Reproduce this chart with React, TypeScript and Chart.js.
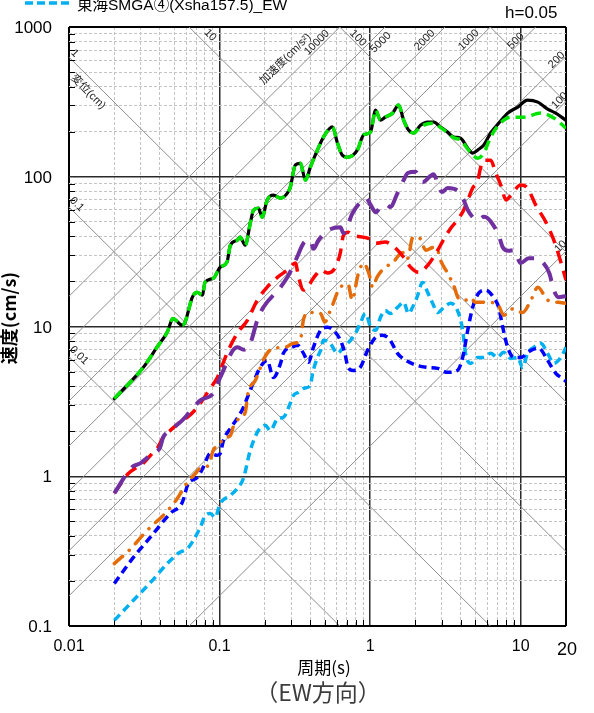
import React, { useEffect, useRef } from 'react';
import { Chart, registerables } from 'chart.js';

Chart.register(...registerables);

// ---- data: [period (s), velocity (cm/s)] ----
const blackSpectrum: [number, number][] = [
  [0.02, 3.3], [0.031, 5.3], [0.0385, 7.3], [0.045, 9.2], [0.049, 11.3], [0.0565, 10.2], [0.059, 10.7],
  [0.066, 15.7], [0.071, 16.9], [0.077, 16.2], [0.08, 19.7], [0.091, 21.0], [0.101, 24.9], [0.112, 26.9],
  [0.118, 34.9], [0.131, 37.7], [0.137, 39.5], [0.148, 34.9], [0.16, 49], [0.168, 59.8], [0.181, 61.7],
  [0.192, 53.7], [0.207, 69.8], [0.228, 75.3], [0.254, 71.9], [0.282, 77.7], [0.295, 85.2], [0.319, 120],
  [0.344, 123], [0.372, 94.9], [0.401, 116], [0.447, 151], [0.49, 184], [0.562, 215], [0.607, 168],
  [0.655, 139], [0.708, 135], [0.824, 151], [0.904, 190], [1.007, 199], [1.087, 279], [1.17, 239],
  [1.26, 250], [1.41, 266], [1.545, 301], [1.67, 239], [1.8, 205], [1.945, 196], [2.16, 221], [2.41, 232],
  [2.64, 232], [2.94, 215], [3.27, 199], [3.59, 184], [3.99, 181], [4.45, 155], [4.8, 144], [5.19, 151],
  [5.69, 163], [6.32, 196], [7.15, 228], [8.2, 266], [9.57, 292], [11.1, 325], [13.0, 315], [15.1, 283],
  [17.1, 266], [20, 238],
];

const greenSpectrum: [number, number][] = [
  [0.02, 3.3], [0.031, 5.3], [0.0385, 7.3], [0.045, 9.2], [0.049, 11.3], [0.0565, 10.2], [0.059, 10.7],
  [0.066, 15.7], [0.071, 16.9], [0.077, 16.2], [0.08, 19.7], [0.091, 21.0], [0.101, 24.9], [0.112, 26.9],
  [0.118, 34.9], [0.131, 37.7], [0.137, 39.5], [0.148, 34.9], [0.16, 49], [0.168, 59.8], [0.181, 61.7],
  [0.192, 53.7], [0.207, 69.8], [0.228, 75.3], [0.254, 71.9], [0.282, 77.7], [0.295, 85.2], [0.319, 120],
  [0.344, 123], [0.372, 94.9], [0.401, 116], [0.447, 151], [0.49, 184], [0.562, 215], [0.607, 168],
  [0.655, 139], [0.708, 135], [0.824, 151], [0.904, 190], [1.007, 199], [1.087, 279], [1.17, 239],
  [1.26, 250], [1.41, 266], [1.545, 301], [1.67, 239], [1.8, 205], [1.945, 196], [2.16, 215], [2.41, 226],
  [2.64, 228], [2.94, 213], [3.27, 197], [3.59, 182], [3.99, 176], [4.45, 153], [4.8, 140], [5.19, 133],
  [5.69, 144], [6.32, 184], [7.15, 222], [8.6, 250], [10.5, 250], [13.6, 266], [16.6, 247], [20, 211],
];

const redSpectrum: [number, number][] = [
  [0.02, 0.77], [0.0247, 1.04], [0.0283, 1.15], [0.0311, 1.22], [0.0362, 1.44], [0.0385, 1.53],
  [0.0422, 1.82], [0.047, 2.02], [0.0565, 2.36], [0.061, 2.47], [0.0711, 2.88], [0.0867, 3.86],
  [0.0967, 4.57], [0.112, 6.62], [0.131, 9.0], [0.153, 11.0], [0.178, 15.0], [0.207, 18.3], [0.242, 21.3],
  [0.282, 23.8], [0.319, 26.5], [0.335, 21.3], [0.361, 17.5], [0.434, 22], [0.469, 23.8], [0.521, 22.8],
  [0.589, 24.9], [0.635, 31.3], [0.665, 40.7], [0.714, 42.6], [0.77, 40.7], [0.962, 38.9], [1.087, 36],
  [1.26, 36.6], [1.476, 33.3], [1.67, 29], [1.86, 24.9], [2.1, 23], [2.41, 25.6], [2.81, 32.3], [3.03, 37],
  [3.43, 45.3], [3.8, 51.3], [4.18, 59.8], [4.45, 69.8], [4.8, 84], [5.19, 95], [5.43, 116], [5.69, 129],
  [6.32, 129], [6.83, 106], [7.38, 88], [8.0, 70], [8.6, 75], [10.0, 88], [11.1, 84], [12.6, 64.6],
  [14.7, 49.8], [16.6, 37.7], [18.5, 26.9], [20, 20.4],
];

const purpleSpectrum: [number, number][] = [
  [0.02, 0.77], [0.0262, 1.15], [0.0297, 1.22], [0.0357, 1.42], [0.0403, 1.56], [0.0422, 1.82],
  [0.047, 2.02], [0.0565, 2.36], [0.0745, 3.21], [0.0908, 3.57], [0.101, 4.57], [0.131, 7.26],
  [0.145, 7.0], [0.16, 7.72], [0.178, 11.0], [0.195, 13.4], [0.254, 18.3], [0.282, 21.3], [0.3, 24],
  [0.327, 29], [0.361, 36], [0.401, 37.7], [0.42, 33], [0.454, 37.7], [0.528, 44], [0.635, 46], [0.665, 42],
  [0.764, 57.1], [0.889, 69.8], [0.94, 72], [1.01, 64.6], [1.09, 57.9], [1.17, 62.7], [1.3, 64.6],
  [1.36, 62.7], [1.52, 77.7], [1.67, 95], [1.78, 106], [2.0, 108], [2.23, 92], [2.64, 104], [2.86, 85],
  [3.0, 79], [3.27, 84], [3.8, 81], [4.18, 70], [4.45, 60], [5.19, 51.3], [5.69, 54], [6.04, 52.8],
  [6.59, 47.4], [7.15, 40.7], [7.6, 33.8], [8.3, 32], [9.0, 32.3], [10.0, 26.5], [11.3, 28.6], [12.6, 28.6],
  [13.6, 27.7], [15.5, 22.7], [16.6, 17.5], [17.8, 15.7], [20, 16],
];

const orangeSpectrum: [number, number][] = [
  [0.02, 0.261], [0.0262, 0.334], [0.0306, 0.4], [0.0357, 0.469], [0.0422, 0.547], [0.0524, 0.71],
  [0.0592, 0.87], [0.0689, 1.04], [0.0745, 1.13], [0.0842, 1.18], [0.0908, 1.49], [0.101, 1.66],
  [0.106, 1.79], [0.118, 1.87], [0.123, 2.12], [0.137, 2.47], [0.148, 2.67], [0.155, 3.63], [0.173, 4.37],
  [0.195, 5.94], [0.207, 6.62], [0.228, 7.15], [0.273, 7.26], [0.309, 7.72], [0.344, 8.1], [0.36, 11.0],
  [0.39, 12.4], [0.469, 12.2], [0.5, 10.7], [0.544, 12.8], [0.635, 18.3], [0.714, 19.1], [0.76, 15.0],
  [0.83, 22], [0.904, 26.5], [0.98, 22.7], [1.04, 18.3], [1.11, 21.3], [1.26, 24.9], [1.41, 26.5],
  [1.6, 30.8], [1.73, 31.2], [1.78, 28.6], [1.91, 38.9], [2.1, 39.5], [2.35, 32.3], [2.64, 33.8],
  [2.81, 32.3], [2.94, 27.7], [3.27, 22.7], [3.59, 18.8], [3.87, 15.4], [4.3, 15.0], [4.65, 15.6],
  [5.0, 14.5], [5.85, 14.5], [7.0, 14.2], [7.7, 11.9], [8.2, 12.2], [8.8, 13.1], [10.3, 12.4], [11.7, 15.0],
  [13.0, 18.3], [15.1, 15.0], [17.8, 14.5], [20, 14.3],
];

const blueSpectrum: [number, number][] = [
  [0.02, 0.192], [0.0267, 0.286], [0.0346, 0.39], [0.047, 0.564], [0.0565, 0.668], [0.062, 0.895],
  [0.071, 0.98], [0.078, 1.15], [0.0867, 1.42], [0.0967, 1.38], [0.101, 1.42], [0.106, 1.73], [0.118, 2.09],
  [0.131, 2.43], [0.144, 2.88], [0.155, 3.47], [0.168, 4.24], [0.186, 5.33], [0.207, 5.94], [0.228, 4.57],
  [0.254, 5.67], [0.265, 6.62], [0.282, 7.15], [0.3, 7.26], [0.33, 7.5], [0.361, 6.62], [0.39, 5.77],
  [0.42, 7.26], [0.469, 9.44], [0.521, 9.9], [0.57, 9.44], [0.635, 8.09], [0.68, 6.62], [0.714, 5.33],
  [0.77, 5.09], [0.86, 5.33], [0.962, 6.93], [1.09, 8.47], [1.21, 8.74], [1.36, 8.09], [1.52, 6.62],
  [1.73, 5.94], [2.05, 5.5], [2.41, 5.33], [2.81, 5.25], [3.27, 4.94], [3.8, 5.09], [4.12, 6.22],
  [4.45, 9.44], [4.8, 13.4], [5.26, 16.7], [5.85, 17.5], [6.59, 15.7], [7.15, 13.4], [7.6, 9.9], [8.2, 7.26],
  [9.0, 6.22], [10.0, 6.22], [11.7, 6.93], [13.2, 7.15], [15.1, 5.94], [17.1, 4.87], [18.9, 4.5], [20, 4.3],
];

const cyanSpectrum: [number, number][] = [
  [0.02, 0.109], [0.0267, 0.148], [0.0357, 0.201], [0.0449, 0.261], [0.053, 0.305], [0.062, 0.334],
  [0.0668, 0.372], [0.0745, 0.455], [0.0804, 0.547], [0.0867, 0.564], [0.0935, 0.531], [0.101, 0.658],
  [0.118, 0.745], [0.133, 0.841], [0.144, 0.966], [0.16, 1.49], [0.181, 2.02], [0.201, 2.19], [0.217, 2.02],
  [0.244, 2.43], [0.265, 2.47], [0.295, 3.07], [0.31, 3.47], [0.333, 3.63], [0.361, 3.86], [0.401, 4.04],
  [0.415, 4.87], [0.447, 6.22], [0.469, 6.93], [0.49, 8.09], [0.544, 7.7], [0.607, 6.62], [0.665, 7.26],
  [0.74, 8.09], [0.8, 9.0], [0.86, 10.5], [0.93, 12.2], [1.01, 9.9], [1.09, 9.44], [1.17, 11.5], [1.26, 12.8],
  [1.36, 12.2], [1.52, 13.4], [1.67, 14.5], [1.8, 12.2], [1.91, 13.4], [2.05, 15.7], [2.23, 19.7],
  [2.41, 16.9], [2.6, 14.3], [2.81, 12.4], [3.09, 13.4], [3.43, 14.3], [3.8, 12.8], [4.12, 9.44], [4.3, 6.62],
  [4.65, 5.67], [5.19, 6.22], [5.69, 6.22], [6.32, 6.62], [7.0, 6.22], [7.7, 6.72], [8.6, 6.12], [9.57, 6.22],
  [10.3, 5.33], [11.1, 6.62], [12.2, 7.26], [13.6, 7.72], [15.1, 6.62], [16.6, 5.67], [18.5, 6.22], [20, 7.26],
];

// tripartite guide lines
const displacementLines = [0.01, 0.1, 1, 10, 100, 1000]; // cm
const accelerationLines = [10, 100, 200, 500, 1000, 2000, 5000, 10000]; // cm/s2

// axis ticks / gridlines
const xGridValues = [
  0.01, 0.02, 0.03, 0.04, 0.05, 0.06, 0.07, 0.08, 0.09,
  0.1, 0.2, 0.3, 0.4, 0.5, 0.6, 0.7, 0.8, 0.9,
  1, 2, 3, 4, 5, 6, 7, 8, 9, 10, 20,
];
const yGridValues = [
  0.1, 0.2, 0.3, 0.4, 0.5, 0.6, 0.7, 0.8, 0.9,
  1, 2, 3, 4, 5, 6, 7, 8, 9,
  10, 20, 30, 40, 50, 60, 70, 80, 90,
  100, 200, 300, 400, 500, 600, 700, 800, 900, 1000,
];
const xTickLabels = ['0.01', '0.1', '1', '10', '20'];
const yTickLabels = ['0.1', '1', '10', '100', '1000'];

const legendLabel = '東海SMGA④(Xsha157.5)_EW';

// label anchors on the guide lines (period where the label sits, offset from line)
const dispLabelDefs = [
  { text: '1', d: 1, t: 0.01015, off: 7, size: 11 },
  { text: '変位(cm)', d: 1, t: 0.0151, off: -11, size: 11 },
  { text: '0.1', d: 0.1, t: 0.0104, off: 7.5, size: 11 },
  { text: '0.01', d: 0.01, t: 0.0107, off: 8, size: 11 },
  { text: '10', d: 10, t: 0.0786, off: 9, size: 11 },
  { text: '100', d: 100, t: 0.787, off: 5, size: 11 },
];
const accLabelDefs = [
  { text: '10000', a: 10000, t: 0.468, off: 5, size: 11 },
  { text: '加速度(cm/s²)', a: 10000, t: 0.324, off: 15.5, size: 11 },
  { text: '5000', a: 5000, t: 1.08, off: -8, size: 11 },
  { text: '2000', a: 2000, t: 2.43, off: 5, size: 11 },
  { text: '1000', a: 1000, t: 4.82, off: 6, size: 11 },
  { text: '500', a: 500, t: 9.7, off: 4, size: 11 },
  { text: '200', a: 200, t: 18.1, off: 4, size: 11 },
  { text: '100', a: 100, t: 19.2, off: 5, size: 11 },
  { text: '10', a: 10, t: 19.9, off: 7, size: 11 },
];

const SANS = '"Liberation Sans", Arial, "Noto Sans CJK JP", sans-serif';
const JP = '"Noto Sans CJK JP", "Liberation Sans", sans-serif';

const seriesDefs = [
  { points: greenSpectrum, color: '#00e400', width: 3.5, dash: [10, 6], cap: 'butt', order: 0 },
  { points: blackSpectrum, color: '#000000', width: 3.2, dash: [], cap: 'round', order: 1 },
  { points: purpleSpectrum, color: '#7030a0', width: 4, dash: [20, 11], cap: 'butt', order: 2 },
  { points: redSpectrum, color: '#ff0000', width: 3.5, dash: [13, 8], cap: 'butt', order: 3 },
  { points: orangeSpectrum, color: '#e46c0a', width: 3.5, dash: [11, 9, 0.1, 9], cap: 'round', order: 4 },
  { points: blueSpectrum, color: '#0000ff', width: 3.5, dash: [8, 5], cap: 'butt', order: 5 },
  { points: cyanSpectrum, color: '#00b0f0', width: 3.5, dash: [8, 5], cap: 'butt', order: 6 },
];

const isDecade = (v: number) => Math.abs(Math.log10(v) - Math.round(Math.log10(v))) < 1e-6;

const tripartitePlugin = {
  id: 'tripartite',
  beforeDatasetsDraw(chart: any) {
    const { ctx, chartArea: a, scales } = chart;
    const xs = scales.x;
    const ys = scales.y;
    const tMin = xs.min;
    const tMax = xs.max;
    ctx.save();
    ctx.beginPath();
    ctx.rect(a.left, a.top, a.right - a.left, a.bottom - a.top);
    ctx.clip();
    ctx.strokeStyle = '#8e8e8e';
    ctx.lineWidth = 1;
    ctx.setLineDash([]);
    const seg = (t1: number, v1: number, t2: number, v2: number) => {
      ctx.beginPath();
      ctx.moveTo(xs.getPixelForValue(t1), ys.getPixelForValue(v1));
      ctx.lineTo(xs.getPixelForValue(t2), ys.getPixelForValue(v2));
      ctx.stroke();
    };
    for (const d of displacementLines) seg(tMin, (2 * Math.PI * d) / tMin, tMax, (2 * Math.PI * d) / tMax);
    for (const A of accelerationLines) seg(tMin, (A * tMin) / (2 * Math.PI), tMax, (A * tMax) / (2 * Math.PI));

    // minor tick marks inside the axes
    ctx.strokeStyle = '#000';
    ctx.lineWidth = 1;
    for (const v of yGridValues) {
      if (isDecade(v)) continue;
      const py = Math.round(ys.getPixelForValue(v)) + 0.5;
      ctx.beginPath();
      ctx.moveTo(a.left, py);
      ctx.lineTo(a.left + 6, py);
      ctx.stroke();
    }
    for (const v of xGridValues) {
      if (isDecade(v) || v === tMax) continue;
      const px = Math.round(xs.getPixelForValue(v)) + 0.5;
      ctx.beginPath();
      ctx.moveTo(px, a.bottom);
      ctx.lineTo(px, a.bottom - 6);
      ctx.stroke();
    }

    // guide-line labels
    ctx.fillStyle = '#222';
    ctx.textAlign = 'center';
    ctx.textBaseline = 'middle';
    const put = (text: string, px: number, py: number, ang: number, off: number, size: number) => {
      ctx.save();
      ctx.translate(px, py);
      ctx.rotate(ang);
      ctx.font = `${size}px ${SANS}`;
      ctx.fillText(text, 0, -off);
      ctx.restore();
    };
    for (const l of dispLabelDefs) {
      put(l.text, xs.getPixelForValue(l.t), ys.getPixelForValue((2 * Math.PI * l.d) / l.t), Math.PI / 4, l.off, l.size);
    }
    for (const l of accLabelDefs) {
      put(l.text, xs.getPixelForValue(l.t), ys.getPixelForValue((l.a * l.t) / (2 * Math.PI)), -Math.PI / 4, l.off, l.size);
    }
    ctx.restore();
  },
  afterDraw(chart: any) {
    const { ctx, chartArea: a, scales } = chart;
    const xs = scales.x;
    const ys = scales.y;
    ctx.save();
    ctx.fillStyle = '#000';
    // y tick labels
    ctx.font = `17px ${SANS}`;
    ctx.textAlign = 'right';
    ctx.textBaseline = 'middle';
    for (const lab of yTickLabels) {
      ctx.fillText(lab, 52, ys.getPixelForValue(parseFloat(lab)) + 1.5);
    }
    // x tick labels
    ctx.textAlign = 'center';
    for (const lab of xTickLabels) {
      const v = parseFloat(lab);
      if (v === 20) {
        ctx.font = `18px ${SANS}`;
        ctx.fillText(lab, xs.getPixelForValue(v) + 1, a.bottom + 24);
      } else {
        ctx.font = `16px ${SANS}`;
        ctx.fillText(lab, xs.getPixelForValue(v), a.bottom + 21);
      }
    }
    // axis titles
    ctx.save();
    ctx.translate(9, 318);
    ctx.rotate(-Math.PI / 2);
    ctx.font = `bold 18px ${JP}`;
    ctx.fillText('速度(cm/s)', 0, 0);
    ctx.restore();
    ctx.font = `17px ${JP}`;
    ctx.fillText('周期(s)', 324, 668);
    ctx.fillStyle = '#3c3c3c';
    ctx.font = `23px ${JP}`;
    ctx.fillText('（EW方向）', 318, 692);
    // damping
    ctx.fillStyle = '#000';
    ctx.textAlign = 'left';
    ctx.textBaseline = 'alphabetic';
    ctx.font = `17px ${SANS}`;
    ctx.fillText('h=0.05', 505, 18);
    // legend (last entry, partly cut off at top)
    ctx.strokeStyle = '#00b0f0';
    ctx.lineWidth = 3.5;
    ctx.setLineDash([8, 4]);
    ctx.beginPath();
    ctx.moveTo(25, 3);
    ctx.lineTo(71, 3);
    ctx.stroke();
    ctx.setLineDash([]);
    ctx.font = `15.5px ${SANS}`;
    ctx.fillText(legendLabel, 77, 10);
    ctx.restore();
  },
};

function gridStyle(v: number, lo: number, hi: number) {
  if (v === undefined) return { color: '#c4c4c4', width: 1, dash: [3, 2] };
  if (Math.abs(v - lo) / lo < 1e-6 || Math.abs(v - hi) / hi < 1e-6) return { color: '#000', width: 2, dash: [] };
  if (isDecade(v)) return { color: '#2a2a2a', width: 1.5, dash: [] };
  return { color: '#c4c4c4', width: 1, dash: [3, 2] };
}

export default function App() {
  const ref = useRef<HTMLCanvasElement>(null);
  useEffect(() => {
    const canvas = ref.current;
    if (!canvas) return;
    const chart = new Chart(canvas, {
      type: 'line',
      data: {
        datasets: seriesDefs.map((s) => ({
          data: s.points.map(([x, y]) => ({ x, y })),
          borderColor: s.color,
          backgroundColor: s.color,
          borderWidth: s.width,
          borderDash: s.dash,
          borderCapStyle: s.cap as CanvasLineCap,
          borderJoinStyle: 'round' as CanvasLineJoin,
          pointRadius: 0,
          fill: false,
          tension: 0.4,
          cubicInterpolationMode: 'monotone' as const,
          order: s.order,
        })),
      },
      options: {
        responsive: false,
        animation: false,
        devicePixelRatio: 1,
        layout: { padding: { left: 69, top: 27, right: 28, bottom: 87 } },
        plugins: { legend: { display: false }, tooltip: { enabled: false } },
        scales: {
          x: {
            type: 'logarithmic',
            min: 0.01,
            max: 20,
            bounds: 'data',
            afterBuildTicks: (s: any) => {
              s.ticks = xGridValues.map((v) => ({ value: v }));
            },
            ticks: { display: false, autoSkip: false },
            grid: {
              drawTicks: false,
              color: (c: any) => gridStyle(c.tick?.value, 0.01, 20).color,
              lineWidth: (c: any) => gridStyle(c.tick?.value, 0.01, 20).width,
            },
            border: { display: false, dash: (c: any) => gridStyle(c.tick?.value, 0.01, 20).dash },
          },
          y: {
            type: 'logarithmic',
            min: 0.1,
            max: 1000,
            bounds: 'data',
            afterBuildTicks: (s: any) => {
              s.ticks = yGridValues.map((v) => ({ value: v }));
            },
            ticks: { display: false, autoSkip: false },
            grid: {
              drawTicks: false,
              color: (c: any) => gridStyle(c.tick?.value, 0.1, 1000).color,
              lineWidth: (c: any) => gridStyle(c.tick?.value, 0.1, 1000).width,
            },
            border: { display: false, dash: (c: any) => gridStyle(c.tick?.value, 0.1, 1000).dash },
          },
        },
      } as any,
      plugins: [tripartitePlugin],
    });
    return () => chart.destroy();
  }, []);
  return (
    <div style={{ position: 'fixed', left: 0, top: 0, width: 594, height: 713, background: '#fff' }}>
      <canvas ref={ref} width={594} height={713} style={{ display: 'block', width: 594, height: 713 }} />
    </div>
  );
}
